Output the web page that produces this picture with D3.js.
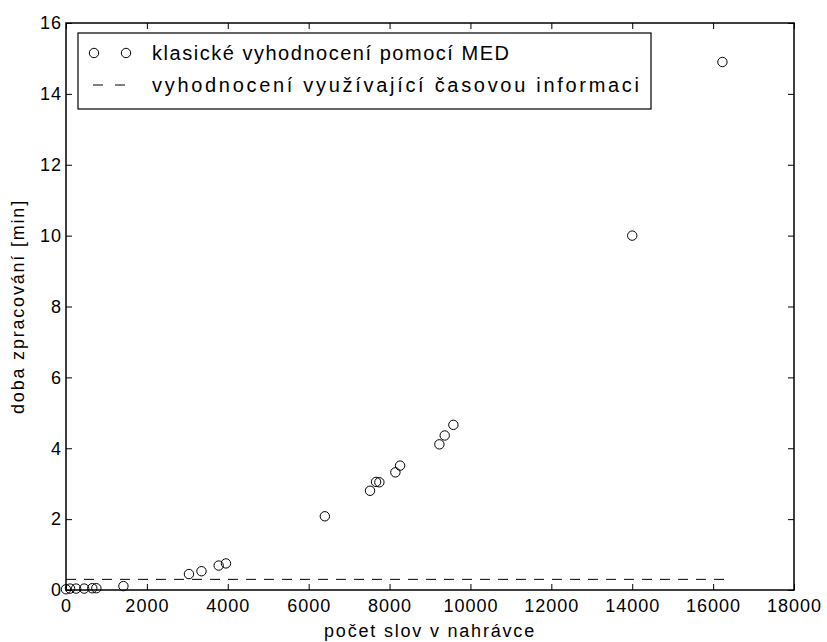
<!DOCTYPE html>
<html>
<head>
<meta charset="utf-8">
<script src="https://cdn.jsdelivr.net/npm/d3@7"></script>
<style>
  body { margin: 0; background: #fff; }
  svg { font-family: "Liberation Sans", Arial, sans-serif; }
</style>
</head>
<body>
<svg id="chart" width="827" height="642"></svg>
<script>
// word counts and processing times
const wordCounts = [0, 100, 250, 450, 650, 750, 1420, 3040, 3350, 3775, 3955, 6400,
  7517, 7666, 7748, 8144, 8260, 9232, 9364, 9578, 14000, 16230];
const classicTimes = [0.02, 0.04, 0.04, 0.04, 0.05, 0.05, 0.11, 0.45, 0.53, 0.69, 0.75, 2.08,
  2.80, 3.05, 3.04, 3.32, 3.51, 4.11, 4.36, 4.66, 10.0, 14.9];
const timedX = [0, 16400];
const timedY = [0.3, 0.3];
const xTicks = [0, 2000, 4000, 6000, 8000, 10000, 12000, 14000, 16000, 18000];
const yTicks = [0, 2, 4, 6, 8, 10, 12, 14, 16];
const legendLabels = ['klasické vyhodnocení pomocí MED', 'vyhodnocení využívající časovou informaci'];

const svg = d3.select('#chart');
const margin = { top: 23, right: 33, bottom: 52, left: 66 };
const width = 827 - margin.left - margin.right;
const height = 642 - margin.top - margin.bottom;

const x = d3.scaleLinear().domain([0, 18000]).range([0, width]);
const y = d3.scaleLinear().domain([0, 16]).range([height, 0]);

const g = svg.append('g').attr('transform', `translate(${margin.left},${margin.top})`);

// dashed line
const line = d3.line().x(d => x(d[0])).y(d => y(d[1]));
g.append('path')
  .datum(timedX.map((v, i) => [v, timedY[i]]))
  .attr('d', line)
  .attr('fill', 'none')
  .attr('stroke', '#000')
  .attr('stroke-width', 1)
  .attr('stroke-dasharray', '10,8');

// circles
g.selectAll('circle.pt')
  .data(wordCounts.map((v, i) => [v, classicTimes[i]]))
  .enter()
  .append('circle')
  .attr('class', 'pt')
  .attr('cx', d => x(d[0]))
  .attr('cy', d => y(d[1]))
  .attr('r', 4.7)
  .attr('fill', 'none')
  .attr('stroke', '#000')
  .attr('stroke-width', 1);

// axes, ticks inward on all four sides
const tickStyle = sel => {
  sel.select('.domain').remove();
  sel.selectAll('.tick line').attr('stroke', '#000');
  sel.selectAll('.tick text').attr('fill', '#000')
    .style('font-size', '18px').style('letter-spacing', '1px');
};

g.append('g')
  .attr('transform', `translate(0,${height})`)
  .call(d3.axisBottom(x).tickValues(xTicks).tickSize(-6).tickPadding(9).tickFormat(d3.format('d')))
  .call(tickStyle);
g.append('g')
  .call(d3.axisTop(x).tickValues(xTicks).tickSize(-6).tickFormat(''))
  .call(tickStyle);
g.append('g')
  .call(d3.axisLeft(y).tickValues(yTicks).tickSize(-6).tickPadding(4))
  .call(tickStyle);
g.append('g')
  .attr('transform', `translate(${width},0)`)
  .call(d3.axisRight(y).tickValues(yTicks).tickSize(-6).tickFormat(''))
  .call(tickStyle);

g.append('rect')
  .attr('width', width).attr('height', height)
  .attr('fill', 'none').attr('stroke', '#000').attr('stroke-width', 1.5);

// axis labels
svg.append('text')
  .attr('x', margin.left + width / 2)
  .attr('y', 637)
  .attr('text-anchor', 'middle')
  .style('font-size', '18px')
  .style('letter-spacing', '1.8px')
  .text('počet slov v nahrávce');

svg.append('text')
  .attr('transform', `translate(24,${margin.top + height / 2}) rotate(-90)`)
  .attr('text-anchor', 'middle')
  .style('font-size', '18px')
  .style('letter-spacing', '1.8px')
  .text('doba zpracování [min]');

// legend
const lg = g.append('g').attr('transform', 'translate(12,10)');
lg.append('rect')
  .attr('width', 573).attr('height', 76)
  .attr('fill', '#fff').attr('stroke', '#000').attr('stroke-width', 1.2);

const row1 = 20, row2 = 52;
[16, 48].forEach(cx => {
  lg.append('circle').attr('cx', cx).attr('cy', row1).attr('r', 4.7)
    .attr('fill', 'none').attr('stroke', '#000');
});
lg.append('line')
  .attr('x1', 15).attr('x2', 47).attr('y1', row2).attr('y2', row2)
  .attr('stroke', '#000').attr('stroke-dasharray', '10,12');

lg.selectAll('text.lab')
  .data(legendLabels)
  .enter()
  .append('text')
  .attr('class', 'lab')
  .attr('x', 74)
  .attr('y', (d, i) => (i === 0 ? row1 : row2) + 7)
  .attr('textLength', (d, i) => (i === 0 ? 357 : 487))
  .attr('lengthAdjust', 'spacing')
  .style('font-size', '20px')
  .text(d => d);
</script>
</body>
</html>
